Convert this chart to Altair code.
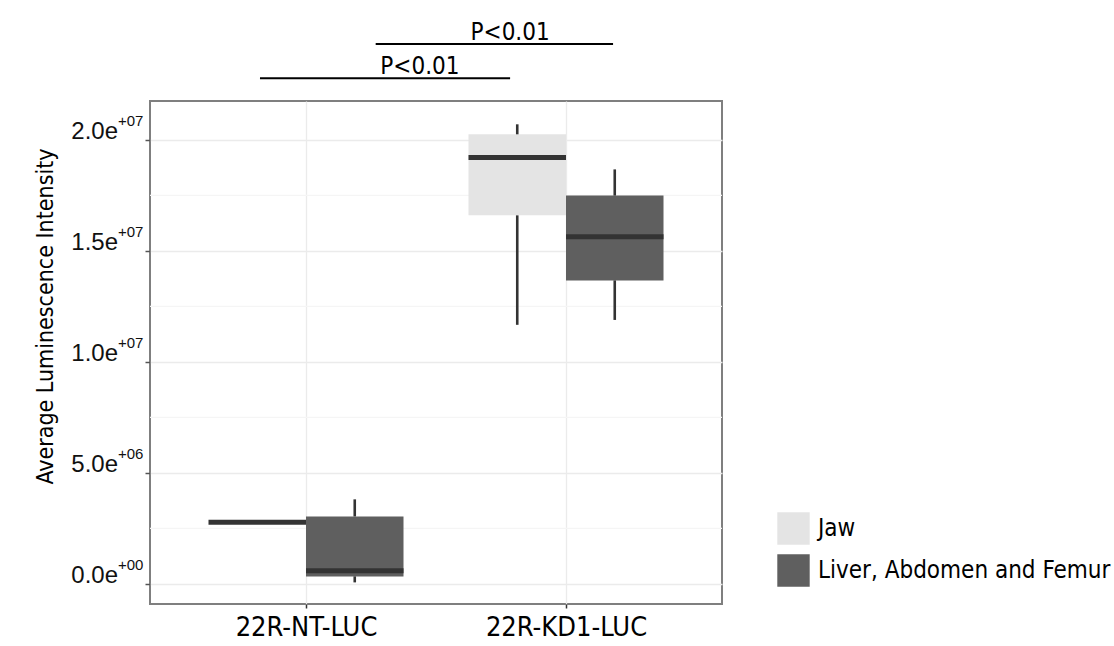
import altair as alt
import pandas as pd

# ---------------- data ----------------
categories = ["22R-NT-LUC", "22R-KD1-LUC"]
tissues = ["Jaw", "Liver, Abdomen and Femur"]
tissue_colors = ["#e4e4e4", "#5f5f5f"]

box_category = ["22R-NT-LUC", "22R-NT-LUC", "22R-KD1-LUC", "22R-KD1-LUC"]
box_tissue = ["Jaw", "Liver, Abdomen and Femur", "Jaw", "Liver, Abdomen and Femur"]
whisker_low = [2.78e6, 0.07e6, 11.67e6, 11.89e6]
q1 = [2.78e6, 0.34e6, 16.60e6, 13.67e6]
median = [2.78e6, 0.59e6, 19.20e6, 15.64e6]
q3 = [2.78e6, 3.04e6, 20.25e6, 17.49e6]
whisker_high = [2.78e6, 3.81e6, 20.70e6, 18.67e6]

y_ticks = [0, 5e6, 1e7, 1.5e7, 2e7]
y_tick_mantissa = ["0.0e", "5.0e", "1.0e", "1.5e", "2.0e"]
y_tick_exponent = ["+00", "+06", "+07", "+07", "+07"]
y_minor = [2.5e6, 7.5e6, 1.25e7, 1.75e7]

sig_label = ["P<0.01", "P<0.01"]
sig_x_start = [0.823, 1.268]
sig_x_end = [1.785, 2.181]
sig_text_x = [1.438, 1.785]
sig_height = [22.78e6, 24.32e6]

# ---------------- tables ----------------
DODGE = 0.375
box_df = pd.DataFrame({
    "category": box_category,
    "tissue": box_tissue,
    "lo": whisker_low, "q1": q1, "med": median, "q3": q3, "hi": whisker_high,
})
box_df["pos"] = [categories.index(c) + 1 for c in box_df["category"]]
box_df["left"] = box_df["pos"] - [DODGE if t == tissues[0] else 0 for t in box_df["tissue"]]
box_df["right"] = box_df["left"] + DODGE
box_df["center"] = box_df["left"] + DODGE / 2

tick_df = pd.DataFrame({"v": y_ticks, "mant": y_tick_mantissa, "exp": y_tick_exponent})
minor_df = pd.DataFrame({"v": y_minor})
sig_df = pd.DataFrame({"label": sig_label, "x0": sig_x_start, "x1": sig_x_end,
                       "tx": sig_text_x, "h": sig_height})

NARROW = "Liberation Sans Narrow, Arial Narrow, DejaVu Sans Condensed, sans-serif"
ARIAL = "Liberation Sans, Arial, sans-serif"
YTITLE = "Average Luminescence Intensity"

xscale = alt.Scale(domain=[0.4, 2.6], nice=False, zero=False)
yscale = alt.Scale(domain=[-0.903e6, 21.75e6], nice=False, zero=False)

label_expr = "[" + ",".join("'" + c + "'" for c in categories) + "][datum.value - 1]"
xaxis = alt.Axis(values=[1, 2], labelExpr=label_expr, grid=True, gridColor="#ebebeb",
                 gridWidth=1.3, domain=False, tickColor="#333333", tickSize=4, tickWidth=1.5,
                 labelFont=NARROW, labelFontSize=27, labelColor="#000000", labelPadding=6,
                 title=None)
yaxis = alt.Axis(values=y_ticks, labels=False, grid=True, gridColor="#ebebeb", gridWidth=1.3,
                 domain=False, tickColor="#555555", tickSize=5, tickWidth=1.5,
                 title=YTITLE, titleFont=NARROW, titleFontSize=23, titleFontWeight="normal",
                 titleColor="#000000", titleAngle=270, titleX=-105, titleY=215,
                 titleAlign="center", titleBaseline="middle")


def X(field):
    return alt.X(field, type="quantitative", scale=xscale, axis=xaxis, title=None)


def Y(field):
    return alt.Y(field, type="quantitative", scale=yscale, axis=yaxis, title=YTITLE)


minor = alt.Chart(minor_df).mark_rule(color="#f5f5f5", strokeWidth=1.2).encode(y=Y("v"))

color = alt.Color("tissue:N", scale=alt.Scale(domain=tissues, range=tissue_colors),
                  legend=alt.Legend(title=None, orient="none", legendX=627, legendY=411,
                                    symbolType="square", symbolSize=1050, symbolStrokeWidth=0,
                                    symbolOpacity=1, labelFont=NARROW, labelFontSize=24,
                                    labelColor="#000000", labelOffset=8, rowPadding=9,
                                    labelLimit=400))

boxes = alt.Chart(box_df).mark_bar(strokeWidth=0, opacity=1).encode(
    x=X("left"), x2="right", y=Y("q1"), y2="q3", color=color)

whisk_lo = alt.Chart(box_df).mark_rule(color="#333333", strokeWidth=2.6).encode(
    x=X("center"), y=Y("lo"), y2="q1")
whisk_hi = alt.Chart(box_df).mark_rule(color="#333333", strokeWidth=2.6).encode(
    x=X("center"), y=Y("q3"), y2="hi")
med = alt.Chart(box_df).mark_rule(color="#333333", strokeWidth=5).encode(
    x=X("left"), x2="right", y=Y("med"))

brackets = alt.Chart(sig_df).mark_rule(color="#000000", strokeWidth=2).encode(
    x=X("x0"), x2="x1", y=Y("h"))
sig_text = alt.Chart(sig_df).mark_text(font=NARROW, fontSize=24, color="#000000",
                                       baseline="alphabetic", align="center", dy=-4).encode(
    x=X("tx"), y=Y("h"), text="label:N")

ytxt_main = alt.Chart(tick_df).mark_text(font=ARIAL, fontSize=24, color="#111111",
                                         align="right", baseline="alphabetic", dy=-1).encode(
    x=alt.value(-32), y=Y("v"), text="mant:N")
ytxt_exp = alt.Chart(tick_df).mark_text(font=ARIAL, fontSize=15, color="#111111",
                                        align="left", baseline="alphabetic", dy=-14).encode(
    x=alt.value(-32), y=Y("v"), text="exp:N")

chart = alt.layer(minor, boxes, whisk_lo, whisk_hi, med, brackets, sig_text,
                  ytxt_main, ytxt_exp).properties(
    width=572, height=503,
    autosize=alt.AutoSizeParams(type="none"),
    padding={"left": 150, "top": 101, "right": 392, "bottom": 42},
    background="#ffffff",
).configure_view(stroke="#7f7f7f", strokeWidth=2)

chart.save("out.html", embed_options={"renderer": "svg", "actions": False})
